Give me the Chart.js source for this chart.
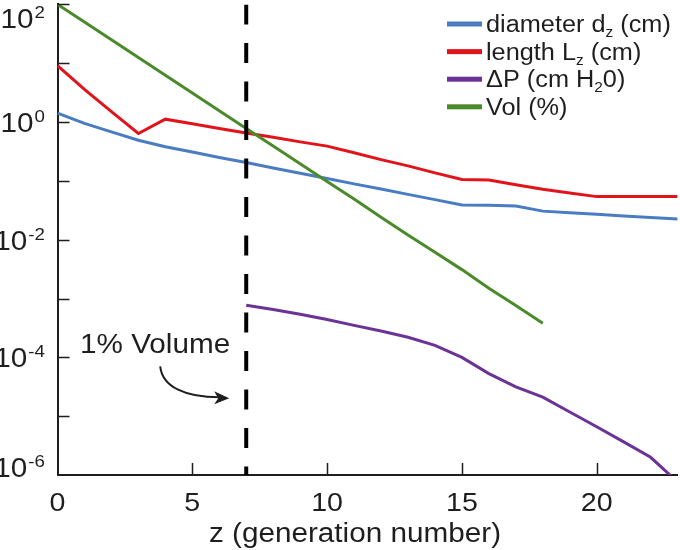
<!DOCTYPE html>
<html>
<head>
<meta charset="utf-8">
<script src="https://cdn.jsdelivr.net/npm/chart.js@4.4.1/dist/chart.umd.min.js"></script>
<style>
  body { margin: 0; background: #fff; }
  canvas { display: block; }
</style>
</head>
<body>
<canvas id="chart" width="680" height="550"></canvas>
<script>
// airway generations (Weibel-type model)
const generations = [0, 1, 2, 3, 4, 5, 6, 7, 8, 9, 10, 11, 12, 13, 14, 15, 16, 17, 18, 19, 20, 21, 22, 23];
const diameterCm = [1.42, 0.95, 0.68, 0.49, 0.38, 0.31, 0.25, 0.205, 0.166, 0.135, 0.110, 0.089, 0.073, 0.059, 0.048, 0.039, 0.0386, 0.0373, 0.0306, 0.0288, 0.0270, 0.0254, 0.0239, 0.0224];
const lengthCm = [9.1, 3.6, 1.5, 0.64, 1.12, 0.935, 0.78, 0.65, 0.55, 0.46, 0.39, 0.30, 0.23, 0.18, 0.137, 0.106, 0.103, 0.086, 0.072, 0.062, 0.054, 0.054, 0.054, 0.054];
const pressureZ = [7, 8, 9, 10, 11, 12, 13, 14, 15, 16, 17, 18, 19, 20, 21, 22, 23];
const pressureCmH2O = [7.7e-4, 6.5e-4, 5.4e-4, 4.4e-4, 3.5e-4, 2.8e-4, 2.2e-4, 1.6e-4, 1.0e-4, 5.3e-5, 3.15e-5, 2.1e-5, 1.18e-5, 6.6e-6, 3.65e-6, 2.0e-6, 7.6e-7];
const volumeZ = [0, 1, 2, 3, 4, 5, 6, 7, 8, 9, 10, 11, 12, 13, 14, 15, 16, 17, 18];
const volumePct = [100, 50, 25, 12.5, 6.25, 3.13, 1.56, 0.78, 0.39, 0.195, 0.098, 0.049, 0.024, 0.012, 0.0061, 0.0031, 0.0015, 0.00076, 0.00038];
const cutoffZ = 7;

const xTicks = [0, 5, 10, 15, 20];
const yExponents = [2, 0, -2, -4, -6];
const legendLabels = ["diameter d_z (cm)", "length L_z (cm)", "\u0394P (cm H_20)", "Vol (%)"];
const xTitle = "z (generation number)";
const noteText = "1% Volume";

const colBlue = "#4a7cc3";
const colRed = "#e1141b";
const colPurple = "#6c3396";
const colGreen = "#4b8a2b";
const ink = "#1e1e1e";
const FONT = "'Liberation Sans', Arial, sans-serif";
const SX = 1.1; // the figure's text is a bit wider than plain Arial

function pts(xs, ys) {
    return xs.map((x, i) => ({ x: x, y: ys[i] }));
}

function wideText(ctx, s, x, y, size) {
    ctx.save();
    ctx.font = size + "px " + FONT;
    const w = ctx.measureText(s).width * SX;
    ctx.translate(x, y);
    ctx.scale(SX, 1);
    ctx.textAlign = "left";
    ctx.textBaseline = "alphabetic";
    ctx.fillText(s, 0, 0);
    ctx.restore();
    return w;
}

function textWidth(ctx, s, size) {
    ctx.save();
    ctx.font = size + "px " + FONT;
    const w = ctx.measureText(s).width * SX;
    ctx.restore();
    return w;
}

// text with "_x" subscripts
function richText(ctx, s, x, y, size) {
    const parts = s.split(/_(.)/);
    let cx = x;
    parts.forEach((p, i) => {
        if (!p) return;
        if (i % 2 === 1) {
            cx += wideText(ctx, p, cx, y + 5, Math.round(size * 0.62));
        } else {
            cx += wideText(ctx, p, cx, y, size);
        }
    });
}

const decorPlugin = {
    id: "decor",
    afterDraw(chart) {
        const ctx = chart.ctx;
        const xs = chart.scales.x;
        const ys = chart.scales.y;
        const area = chart.chartArea;
        ctx.save();
        ctx.fillStyle = ink;
        ctx.strokeStyle = ink;

        // inward tick marks
        ctx.lineWidth = 1.5;
        ctx.beginPath();
        for (let e = -5; e <= 2; e++) {
            const py = Math.round(ys.getPixelForValue(Math.pow(10, e))) + 0.5;
            ctx.moveTo(area.left, py);
            ctx.lineTo(area.left + 12, py);
        }
        xTicks.forEach(v => {
            if (v === 0) return;
            const px = Math.round(xs.getPixelForValue(v)) + 0.5;
            ctx.moveTo(px, area.bottom);
            ctx.lineTo(px, area.bottom - 12);
        });
        ctx.stroke();

        // y tick labels 10^n (cut at the left edge, as in the figure)
        yExponents.forEach(e => {
            const py = ys.getPixelForValue(Math.pow(10, e));
            let base = py + 10;
            base = Math.max(base, 28);
            base = Math.min(base, 477);
            const sup = String(e);
            const wMain = textWidth(ctx, "10", 27);
            const wSup = textWidth(ctx, sup, 17);
            const x0 = 44 - wMain - wSup;
            wideText(ctx, "10", x0, base, 27);
            wideText(ctx, sup, x0 + wMain + 1, base - 10, 17);
        });

        // x tick labels
        xTicks.forEach(v => {
            const px = xs.getPixelForValue(v);
            const s = String(v);
            wideText(ctx, s, px - textWidth(ctx, s, 26) / 2, 511, 26);
        });

        // x title
        wideText(ctx, xTitle, 355 - textWidth(ctx, xTitle, 27) / 2, 542, 27);

        // legend
        const sets = [colBlue, colRed, colPurple, colGreen];
        legendLabels.forEach((lab, i) => {
            const ry = 24 + i * 27.6;
            ctx.fillStyle = sets[i];
            ctx.fillRect(447, ry - 2.5, 35, 5);
            ctx.fillStyle = ink;
            richText(ctx, lab, 486, ry + 8, 23);
        });

        // "1% Volume" note with curved arrow
        const ax = xs.getPixelForValue(cutoffZ);
        const ay = ys.getPixelForValue(1e-4);
        const nw = textWidth(ctx, noteText, 27);
        wideText(ctx, noteText, ax - 16 - nw, ay - 4, 27);
        const tipX = ax - 17, tipY = ay + 41;
        ctx.lineWidth = 2;
        ctx.beginPath();
        ctx.moveTo(ax - 86, ay + 9);
        ctx.bezierCurveTo(ax - 84, ay + 30, ax - 60, ay + 40, tipX - 10, tipY - 1);
        ctx.stroke();
        ctx.beginPath();
        ctx.moveTo(tipX, tipY);
        ctx.lineTo(tipX - 15, tipY - 7);
        ctx.lineTo(tipX - 11, tipY);
        ctx.lineTo(tipX - 15, tipY + 6);
        ctx.closePath();
        ctx.fill();
        ctx.restore();
    }
};

const lineStyle = { borderWidth: 3, pointRadius: 0, tension: 0, fill: false };

new Chart(document.getElementById("chart").getContext("2d"), {
    type: "line",
    data: {
        datasets: [
            {
                label: "cutoff",
                data: [{ x: cutoffZ, y: 100 }, { x: cutoffZ, y: 1e-6 }],
                borderColor: "#000",
                borderWidth: 4,
                borderDash: [20, 18.5],
                pointRadius: 0,
                fill: false
            },
            Object.assign({ label: "Vol (%)", data: pts(volumeZ, volumePct), borderColor: colGreen }, lineStyle),
            Object.assign({ label: "dP", data: pts(pressureZ, pressureCmH2O), borderColor: colPurple }, lineStyle),
            Object.assign({ label: "length", data: pts(generations, lengthCm), borderColor: colRed }, lineStyle),
            Object.assign({ label: "diameter", data: pts(generations, diameterCm), borderColor: colBlue }, lineStyle)
        ]
    },
    options: {
        responsive: false,
        animation: false,
        devicePixelRatio: 1,
        layout: { padding: { left: 0, right: 2.4, top: 4.4, bottom: 0 } },
        plugins: { legend: { display: false }, tooltip: { enabled: false } },
        scales: {
            x: {
                type: "linear",
                min: 0,
                max: 23,
                grid: { display: false, drawTicks: false },
                border: { display: true, color: ink, width: 2 },
                ticks: { display: false },
                afterFit: s => { s.height = 75; }
            },
            y: {
                type: "logarithmic",
                min: 1e-6,
                max: 100,
                grid: { display: false, drawTicks: false },
                border: { display: true, color: ink, width: 2 },
                ticks: { display: false },
                afterFit: s => { s.height = s.height; s.width = 57.5; }
            }
        }
    },
    plugins: [decorPlugin]
});
</script>
</body>
</html>
